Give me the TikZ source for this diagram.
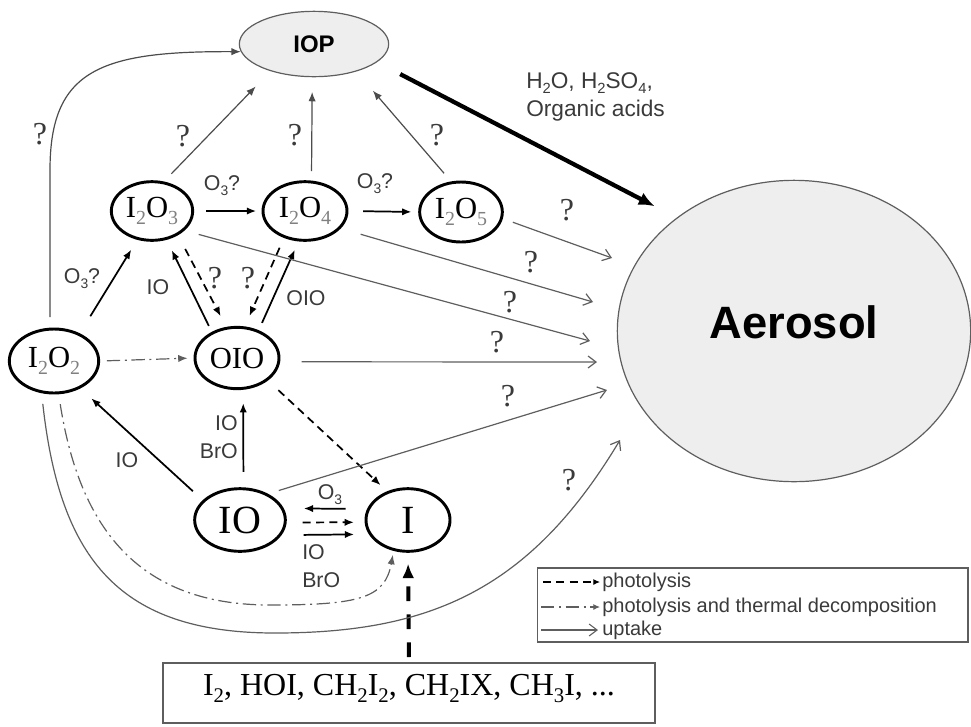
\documentclass[tikz,border=0pt]{standalone}
\usepackage{fontspec}
\setmainfont{Liberation Serif}
\setsansfont{Liberation Sans}
\usetikzlibrary{shapes.geometric,arrows.meta}
\definecolor{cloudgray}{HTML}{EEEEEE}
\definecolor{wiregray}{HTML}{5E5E5E}
\definecolor{inkgray}{HTML}{3A3A3A}
\newcommand{\subn}[1]{\raisebox{-0.45ex}{\scalebox{0.65}{#1}}}
\newcommand{\gsub}[1]{\raisebox{-0.5ex}{\scalebox{0.65}{\color{black!50}#1}}}

\begin{document}
\begin{tikzpicture}[x=0.75pt, y=-0.75pt,
  species/.style={ellipse, draw, line width=2.2pt, inner sep=0pt, font=\fontsize{23}{26}\selectfont},
  pool/.style={ellipse, draw=wiregray, line width=0.9pt, fill=cloudgray, inner sep=0pt},
  rxn/.style={-{Latex[length=7pt,width=5.5pt]}, line width=1.3pt},
  nucl/.style={-{Latex[length=7pt,width=5.5pt]}, line width=0.9pt, draw=black!70},
  photo/.style={rxn, dash pattern=on 6pt off 4pt},
  thermo/.style={-{Latex[length=7pt,width=5.5pt]}, line width=0.9pt, draw=wiregray, dash pattern=on 10pt off 3.5pt on 1.5pt off 3.5pt},
  uptake/.style={-{Straight Barb[length=6pt,width=9pt]}, line width=0.9pt, draw=wiregray},
  lbl/.style={font=\sffamily\fontsize{16}{21}\selectfont, text=inkgray, inner sep=0pt},
  qm/.style={font=\fontsize{24}{26}\selectfont, text=inkgray, inner sep=0pt}]

  % Frame
  \useasboundingbox (0,0) rectangle (971,726);

  % Particle pools
  \node[pool, minimum width=112pt, minimum height=49pt, font=\sffamily\bfseries\fontsize{18}{20}\selectfont] (iop) at (314,44) {IOP};
  \node[pool, minimum width=265pt, minimum height=226pt, text height=25pt, text depth=14.5pt, font=\sffamily\bfseries\fontsize{34}{40}\selectfont] (aero) at (794,331) {Aerosol};

  % Iodine species
  \node[species, minimum width=61pt, minimum height=44pt] (i2o3) at (152,211) {I\gsub{2}O\gsub{3}};
  \node[species, minimum width=63pt, minimum height=44pt] (i2o4) at (305,211) {I\gsub{2}O\gsub{4}};
  \node[species, minimum width=62pt, minimum height=45pt] (i2o5) at (461,212) {I\gsub{2}O\gsub{5}};
  \node[species, minimum width=67pt, minimum height=48pt] (i2o2) at (54,361) {I\gsub{2}O\gsub{2}};
  \node[species, minimum width=63pt, minimum height=46pt] (oio) at (237,358) {OIO};
  \node[species, minimum width=68pt, minimum height=47pt, font=\fontsize{30}{34}\selectfont] (io) at (240,520) {IO};
  \node[species, minimum width=63pt, minimum height=47pt, font=\fontsize{30}{34}\selectfont] (iatom) at (408,520) {I};

  % Precursors
  \node[draw=wiregray, line width=1pt, minimum width=369pt, minimum height=45pt, inner sep=0pt, text height=16pt, text depth=12pt, font=\fontsize{24}{28}\selectfont] (src) at (409,693)
    {I\subn{2}, HOI, CH\subn{2}I\subn{2}, CH\subn{2}IX, CH\subn{3}I, ...};

  % Free ends of the uptake arrows
  \coordinate (up1) at (612,258);
  \coordinate (up2) at (593,302);
  \coordinate (up3) at (590,341);
  \coordinate (up4) at (597,362);
  \coordinate (up5) at (607,390);
  \coordinate (up6) at (620,440);

  % Into IOP
  \draw[nucl, shorten <=8pt] (i2o2.97) -- (50,170) .. controls (50,70) and (100,51) .. (iop.186);
  \draw[nucl, shorten <=8pt, shorten >=16pt] (i2o3.68) -- (iop.212);
  \draw[nucl, shorten <=7pt, shorten >=11pt] (i2o4.78) -- (iop.-93);
  \draw[nucl, shorten <=8pt, shorten >=19pt] (i2o5.108) -- (iop.-33);
  \draw[-{Latex[length=12pt,width=10pt]}, line width=3.2pt, shorten <=19.5pt, shorten >=18.5pt] (iop.-16) -- (aero.136);
  \node[lbl, anchor=west, align=left, font=\sffamily\fontsize{17}{21}\selectfont] (acids) at (526,97) {H\subn{2}O, H\subn{2}SO\subn{4},\\Organic acids};

  % Gas phase chemistry
  \draw[rxn, shorten <=9pt, shorten >=4pt] (i2o3.east) -- (i2o4.west);
  \draw[rxn, shorten <=11pt, shorten >=5pt] (i2o4.east) -- (i2o5.west);
  \draw[rxn, shorten <=15pt, shorten >=8.6pt] (i2o2.47) -- (i2o3.-117);
  \draw[rxn, shorten <=5pt, shorten >=8.6pt] (oio.134) -- (i2o3.-63);
  \draw[photo, shorten <=11.6pt, shorten >=9pt] (i2o3.-43) -- (oio.109);
  \draw[photo, shorten <=8pt, shorten >=8.5pt] (i2o4.-128) -- (oio.76);
  \draw[rxn, shorten <=6pt, shorten >=6.8pt] (oio.52) -- (i2o4.-102);
  \draw[thermo, shorten <=5pt, shorten >=4.5pt] (i2o2.east) -- (oio.west);
  \draw[rxn, shorten <=10pt, shorten >=11pt] (io.152) -- (i2o2.-46);
  \draw[rxn, shorten <=11.6pt, shorten >=10pt] (io.84) -- (oio.-79);
  \draw[photo, shorten <=10.6pt, shorten >=6.7pt] (oio.-36) -- (iatom.126);
  \draw[rxn, shorten <=16pt, shorten >=15pt] (iatom.165) -- (io.15);
  \draw[photo, shorten <=12pt, shorten >=8pt] (io.-3) -- (iatom.-177);
  \draw[rxn, shorten <=16.5pt, shorten >=11pt] (io.-20) -- (iatom.-160);
  \draw[thermo, shorten <=7.5pt, shorten >=3pt] (i2o2.-82) .. controls (80,530) and (140,605) .. (270,605) .. controls (360,605) and (385,598) .. (iatom.-115);
  \draw[-{Latex[length=11pt,width=9pt]}, line width=3pt, dash pattern=on 11pt off 10pt, shorten <=4pt, shorten >=8pt] (src.north) -- (iatom.south);

  % Uptake
  \draw[uptake, shorten <=8pt] (i2o5.-9) -- (up1);
  \draw[uptake, shorten <=15.5pt] (i2o4.-26) -- (up2);
  \draw[uptake, shorten <=11pt] (i2o3.-31) -- (up3);
  \draw[uptake, shorten <=16pt] (oio.-5) -- (up4);
  \draw[uptake, shorten <=8.4pt] (io.43) -- (up5);
  \draw[uptake, shorten <=8pt] (i2o2.-111) .. controls (60,560) and (120,633) .. (275,633) .. controls (430,633) and (530,590) .. (up6);

  % Labels
  \node[lbl] (o3a) at (222,186) {O\subn{3}?};
  \node[lbl] (o3b) at (375,184) {O\subn{3}?};
  \node[lbl] (o3c) at (82,279) {O\subn{3}?};
  \node[lbl] (ioa) at (158,287) {IO};
  \node[lbl] (oiol) at (306,298) {OIO};
  \node[lbl] (iob) at (127,460) {IO};
  \node[lbl, anchor=east, align=right] (iobro) at (238,437) {IO\\BrO};
  \node[lbl] (o3d) at (330,495) {O\subn{3}};
  \node[lbl, anchor=west, align=left] (iobro2) at (302,566) {IO\\BrO};

  % Question marks
  \node[qm] (q1) at (40,134) {?};
  \node[qm] (q2) at (183,136) {?};
  \node[qm] (q3) at (295,135) {?};
  \node[qm] (q4) at (437,135) {?};
  \node[qm] (q5) at (215,278) {?};
  \node[qm] (q6) at (248,278) {?};
  \node[qm] (q7) at (567,210) {?};
  \node[qm] (q8) at (531,262) {?};
  \node[qm] (q9) at (510,302) {?};
  \node[qm] (q10) at (497,342) {?};
  \node[qm] (q11) at (508,396) {?};
  \node[qm] (q12) at (569,480) {?};

  % Legend
  \node[draw=wiregray, line width=1pt, minimum width=323pt, minimum height=55.5pt, inner sep=0pt] (legend) at (752.5,605) {};
  \draw[photo, line width=0.8pt, -{Latex[length=5pt,width=4.5pt]}] (543,582) -- (600,582);
  \draw[thermo, line width=0.8pt, -{Latex[length=5pt,width=4.5pt]}] (541,607) -- (600,607);
  \draw[uptake, line width=0.8pt] (541,630) -- (598,630);
  \node[lbl, anchor=west, font=\sffamily\fontsize{15}{18}\selectfont] (lg1) at (602,582) {photolysis};
  \node[lbl, anchor=west, font=\sffamily\fontsize{15}{18}\selectfont] (lg2) at (602,607) {photolysis and thermal decomposition};
  \node[lbl, anchor=west, font=\sffamily\fontsize{15}{18}\selectfont] (lg3) at (602,630) {uptake};

\end{tikzpicture}
\end{document}
